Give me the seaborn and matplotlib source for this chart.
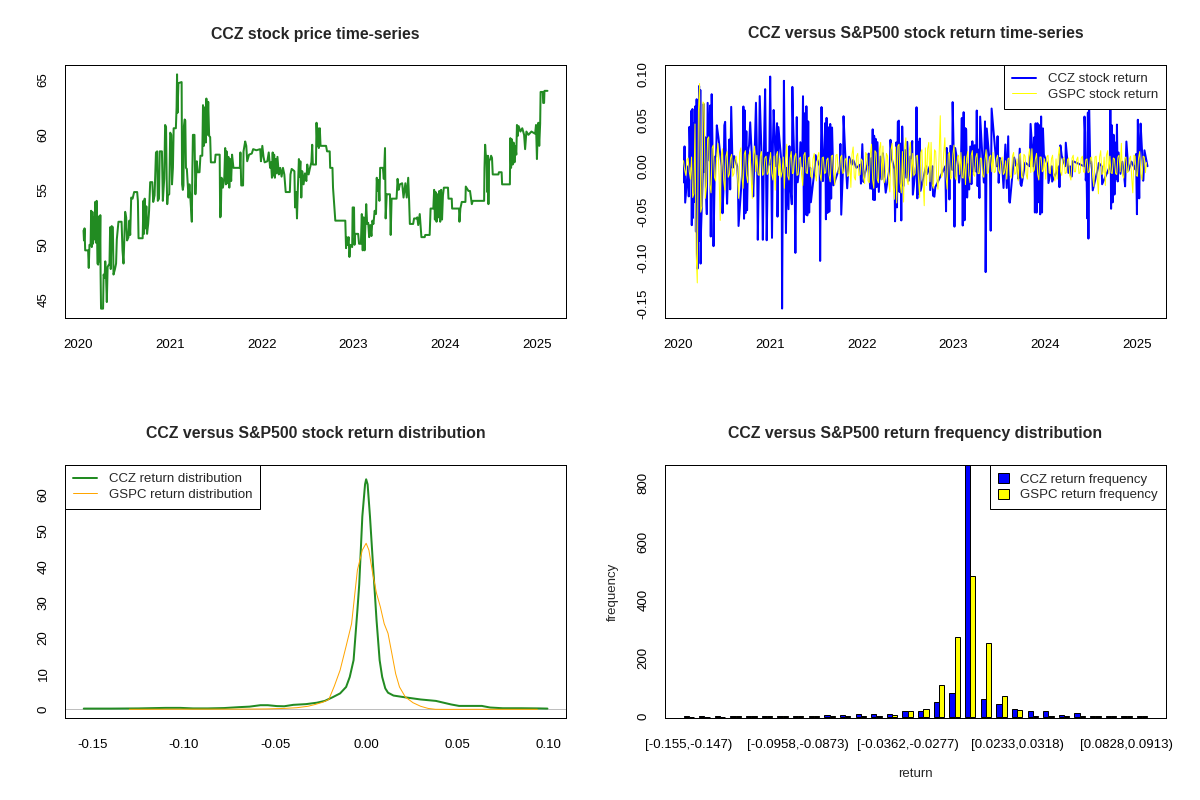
import numpy as np
import pandas as pd
import seaborn as sns
import matplotlib
matplotlib.use('Agg')
import matplotlib.pyplot as plt
from matplotlib.lines import Line2D
from matplotlib.patches import Patch

# ---------------- data ----------------
# CCZ closing price, (decimal year, price) pairs
price_2020 = [
    (2020.055, 51.3), (2020.060, 50.4), (2020.066, 51.5), (2020.073, 49.5), (2020.105, 49.5),
    (2020.112, 47.9), (2020.120, 50.0), (2020.132, 50.0), (2020.138, 53.1), (2020.145, 49.8),
    (2020.152, 53.0), (2020.158, 50.1), (2020.164, 52.5), (2020.175, 50.5), (2020.182, 53.9),
    (2020.190, 50.2), (2020.198, 54.0), (2020.207, 48.3), (2020.215, 48.2), (2020.225, 52.6),
    (2020.232, 48.5), (2020.238, 52.7), (2020.241, 47.4), (2020.246, 44.2), (2020.268, 44.2),
    (2020.274, 47.3), (2020.285, 47.0), (2020.292, 48.5), (2020.300, 47.2), (2020.309, 44.8),
    (2020.318, 48.0), (2020.338, 48.3), (2020.345, 51.6), (2020.352, 47.8), (2020.362, 51.7),
    (2020.375, 51.6), (2020.382, 47.3), (2020.398, 47.8), (2020.410, 48.3), (2020.418, 50.5),
    (2020.436, 52.1), (2020.470, 52.1), (2020.480, 49.5), (2020.491, 48.3), (2020.500, 50.5),
    (2020.509, 53.0), (2020.520, 52.5), (2020.530, 50.4), (2020.545, 50.7), (2020.555, 52.2),
    (2020.564, 50.9), (2020.575, 54.3), (2020.590, 54.2), (2020.607, 54.8), (2020.640, 54.8),
    (2020.648, 54.0), (2020.655, 50.6), (2020.700, 50.6), (2020.708, 54.0), (2020.715, 51.0),
    (2020.722, 54.2), (2020.730, 51.5), (2020.740, 53.5), (2020.748, 51.0), (2020.760, 51.9),
    (2020.770, 53.1), (2020.782, 55.7), (2020.805, 55.7), (2020.815, 53.9), (2020.830, 54.5),
    (2020.845, 58.4), (2020.858, 58.5), (2020.865, 54.0), (2020.878, 54.2), (2020.886, 58.5),
    (2020.910, 58.5), (2020.920, 54.0), (2020.935, 56.0), (2020.945, 60.9), (2020.955, 60.7),
    (2020.962, 56.0), (2020.968, 53.7), (2020.975, 54.5), (2020.990, 54.6),
]
price_2021 = [
    (2021.000, 60.2), (2021.012, 60.0), (2021.020, 55.5), (2021.030, 57.0), (2021.038, 60.6),
    (2021.062, 60.6), (2021.070, 62.5), (2021.075, 65.5), (2021.080, 62.0), (2021.090, 64.7),
    (2021.125, 64.8), (2021.130, 55.5), (2021.138, 55.0), (2021.145, 55.4), (2021.150, 60.8),
    (2021.158, 61.4), (2021.165, 61.3), (2021.172, 57.0), (2021.182, 56.9), (2021.200, 54.3),
    (2021.210, 55.5), (2021.220, 54.3), (2021.236, 52.1), (2021.242, 56.8), (2021.248, 60.0),
    (2021.265, 60.0), (2021.275, 54.6), (2021.290, 57.6), (2021.300, 56.6), (2021.320, 56.6),
    (2021.330, 58.1), (2021.350, 58.1), (2021.358, 62.7), (2021.368, 59.0), (2021.378, 62.5),
    (2021.388, 59.3), (2021.395, 63.3), (2021.405, 60.0), (2021.415, 63.0), (2021.425, 59.9),
    (2021.436, 59.8), (2021.444, 57.5), (2021.488, 57.5), (2021.495, 58.2), (2021.540, 58.2),
    (2021.545, 52.5), (2021.552, 52.6), (2021.560, 56.1), (2021.575, 55.2), (2021.590, 56.1),
    (2021.600, 58.8), (2021.608, 55.5), (2021.615, 58.5), (2021.625, 55.6), (2021.635, 58.0),
    (2021.645, 55.2), (2021.655, 57.8), (2021.665, 55.8), (2021.675, 58.2), (2021.690, 57.0),
    (2021.760, 57.0), (2021.766, 58.4), (2021.775, 55.4), (2021.795, 55.4), (2021.800, 58.5),
    (2021.818, 59.4), (2021.830, 59.0), (2021.840, 57.6), (2021.860, 58.2), (2021.890, 58.3),
    (2021.905, 58.7), (2021.940, 58.6), (2021.982, 58.7), (2021.990, 57.6),
]
price_2022 = [
    (2022.005, 59.0), (2022.018, 58.0), (2022.030, 57.5), (2022.060, 57.6), (2022.075, 58.4),
    (2022.090, 57.0), (2022.100, 57.5), (2022.110, 56.1), (2022.118, 58.4), (2022.126, 56.3),
    (2022.134, 58.2), (2022.142, 56.1), (2022.150, 57.8), (2022.160, 56.5), (2022.170, 58.0),
    (2022.185, 56.4), (2022.200, 57.0), (2022.215, 56.2), (2022.230, 57.0), (2022.245, 56.4),
    (2022.260, 54.8), (2022.305, 54.8), (2022.312, 56.4), (2022.325, 56.9), (2022.355, 56.7),
    (2022.362, 53.4), (2022.375, 54.8), (2022.383, 52.4), (2022.392, 55.0), (2022.404, 57.8),
    (2022.410, 56.2), (2022.420, 57.6), (2022.430, 54.3), (2022.440, 56.7), (2022.455, 55.5),
    (2022.470, 56.5), (2022.485, 55.8), (2022.495, 57.3), (2022.510, 56.4), (2022.525, 57.0),
    (2022.540, 57.5), (2022.549, 59.1), (2022.556, 57.3), (2022.590, 57.3), (2022.596, 61.1),
    (2022.605, 59.0), (2022.612, 60.6), (2022.621, 58.8), (2022.632, 60.6), (2022.640, 59.0),
    (2022.700, 59.0), (2022.711, 58.5), (2022.740, 58.5), (2022.745, 57.0), (2022.770, 57.0),
    (2022.776, 55.2), (2022.791, 53.4), (2022.801, 52.2), (2022.910, 52.2), (2022.918, 49.7),
    (2022.925, 50.7), (2022.935, 50.0), (2022.946, 50.7), (2022.955, 48.9), (2022.965, 50.0),
    (2022.985, 49.8), (2022.990, 53.4),
]
price_2023 = [
    (2023.005, 53.4), (2023.010, 50.0), (2023.018, 51.0), (2023.050, 51.0), (2023.060, 50.1),
    (2023.080, 50.1), (2023.090, 52.8), (2023.100, 49.5), (2023.110, 52.5), (2023.120, 49.5),
    (2023.128, 51.6), (2023.138, 53.7), (2023.148, 51.9), (2023.160, 52.0), (2023.170, 50.7),
    (2023.182, 51.8), (2023.195, 50.8), (2023.205, 52.2), (2023.217, 51.9), (2023.230, 53.1),
    (2023.245, 52.8), (2023.253, 56.1), (2023.262, 54.9), (2023.272, 55.9), (2023.282, 54.0),
    (2023.290, 57.0), (2023.320, 57.0), (2023.330, 56.0), (2023.343, 58.8), (2023.350, 52.4),
    (2023.362, 54.6), (2023.397, 54.6), (2023.405, 50.9), (2023.415, 54.2), (2023.469, 54.2),
    (2023.480, 56.0), (2023.492, 55.0), (2023.505, 55.5), (2023.530, 55.6), (2023.545, 54.3),
    (2023.565, 55.6), (2023.580, 54.3), (2023.596, 56.1), (2023.606, 54.0), (2023.614, 51.9),
    (2023.650, 51.9), (2023.660, 52.4), (2023.686, 52.4), (2023.695, 52.5), (2023.705, 51.8),
    (2023.722, 52.8), (2023.730, 51.8), (2023.740, 50.7), (2023.776, 50.7), (2023.782, 50.9),
    (2023.830, 50.9), (2023.840, 53.3), (2023.870, 53.3), (2023.879, 55.0), (2023.887, 52.3),
    (2023.895, 54.8), (2023.905, 52.1), (2023.915, 54.6), (2023.925, 52.5), (2023.935, 54.9),
    (2023.945, 52.1), (2023.955, 55.0), (2023.965, 52.3), (2023.975, 54.5), (2023.985, 55.2),
]
price_2024 = [
    (2024.030, 55.2), (2024.035, 54.2), (2024.071, 54.2), (2024.075, 53.3), (2024.150, 53.3),
    (2024.155, 52.1), (2024.165, 53.3), (2024.180, 53.9), (2024.220, 53.9), (2024.224, 55.3),
    (2024.253, 54.9), (2024.270, 54.9), (2024.280, 54.3), (2024.290, 53.7), (2024.300, 54.0),
    (2024.424, 54.0), (2024.428, 57.0), (2024.435, 59.1), (2024.442, 58.2), (2024.450, 58.0),
    (2024.458, 54.8), (2024.465, 58.1), (2024.471, 53.7), (2024.478, 57.6), (2024.490, 57.8),
    (2024.500, 58.1), (2024.510, 57.9), (2024.518, 56.4), (2024.580, 56.4), (2024.585, 56.6),
    (2024.615, 56.6), (2024.620, 55.5), (2024.705, 55.5), (2024.710, 59.7), (2024.718, 57.0),
    (2024.726, 59.6), (2024.735, 57.3), (2024.745, 59.3), (2024.755, 57.5), (2024.765, 59.0),
    (2024.775, 58.2), (2024.782, 60.9), (2024.790, 59.9), (2024.800, 60.8), (2024.820, 60.3),
    (2024.840, 60.6), (2024.860, 60.0), (2024.871, 58.7), (2024.885, 60.3), (2024.907, 60.0),
    (2024.940, 60.3), (2024.980, 60.1), (2024.990, 60.9),
]
price_2025 = [
    (2025.000, 57.8), (2025.010, 60.8), (2025.016, 61.1), (2025.025, 59.0), (2025.035, 61.0),
    (2025.040, 63.9), (2025.064, 63.9), (2025.068, 62.9), (2025.078, 62.9), (2025.082, 64.0),
    (2025.115, 64.0),
]

# S&P500 (GSPC) daily return, sampled along the time axis
gspc_start, gspc_step = 2020.055, 0.0125
gspc_2020 = [0.006, -0.004, -0.010, 0.007, 0.009, -0.006, -0.014, 0.010, -0.034, -0.030,
             0.046, -0.095, -0.127, 0.060, 0.090, -0.050, -0.044, 0.070, 0.068, -0.035,
             -0.022, 0.030, 0.032, -0.020, -0.029, 0.020, 0.023, -0.012, -0.016, 0.012,
             0.025, -0.010, -0.059, 0.011, 0.019, -0.015, -0.026, 0.011, 0.016, -0.012,
             -0.009, 0.009, 0.013, -0.011, -0.008, 0.007, 0.011, -0.008, -0.035, 0.015,
             0.020, -0.012, -0.024, 0.013, 0.017, -0.010, -0.018, 0.012, 0.016, -0.012,
             -0.035, 0.012, 0.022, -0.006, 0.012, -0.009, -0.010, 0.011, 0.016, -0.010,
             -0.008, 0.009, 0.011, -0.009, -0.007, 0.006]
gspc_2021 = [0.015, -0.008, -0.015, 0.011, -0.026, 0.012, 0.016, -0.010, 0.009, -0.012,
             -0.006, 0.010, -0.024, 0.008, 0.024, -0.011, -0.015, 0.009, 0.016, -0.008,
             -0.007, 0.011, 0.014, -0.010, -0.009, 0.008, 0.010, -0.009, -0.021, 0.012,
             0.015, -0.007, -0.008, 0.009, 0.010, -0.011, -0.013, 0.008, 0.014, -0.009,
             -0.016, 0.010, 0.015, -0.008, -0.016, 0.009, 0.010, -0.008, -0.007, 0.007,
             0.009, -0.010, -0.017, 0.011, 0.012, -0.009, -0.020, 0.012, 0.013, -0.007,
             -0.008, 0.010, 0.012, -0.008, -0.006, 0.007, 0.009, -0.011, -0.010, 0.008,
             -0.023, 0.013, 0.021, -0.012, -0.015, 0.011, 0.014, -0.010, -0.009, 0.008]
gspc_2022 = [0.006, -0.012, -0.019, 0.015, 0.012, -0.016, -0.018, 0.014, 0.024, -0.015,
             -0.024, 0.017, 0.015, -0.014, -0.018, 0.019, 0.026, -0.015, 0.022, -0.018,
             -0.012, 0.014, 0.011, -0.016, -0.028, 0.018, 0.025, -0.020, -0.036, 0.021,
             -0.040, 0.022, 0.024, -0.018, -0.029, 0.016, -0.039, 0.020, 0.031, -0.015,
             -0.020, 0.017, 0.026, -0.012, 0.014, -0.010, -0.008, 0.011, 0.012, -0.013,
             -0.034, 0.015, 0.018, -0.016, -0.043, 0.020, -0.021, 0.019, 0.026, -0.017,
             0.026, -0.020, -0.024, 0.018, 0.016, -0.014, -0.025, 0.012, 0.055, -0.012,
             -0.009, 0.014, 0.031, -0.011, -0.025, 0.013, 0.015, -0.014, -0.012, 0.013]
gspc_2023 = [0.023, -0.012, -0.015, 0.010, 0.012, -0.009, 0.015, -0.012, -0.013, 0.011,
             -0.020, 0.009, 0.016, -0.010, -0.018, 0.012, 0.017, -0.009, -0.011, 0.010,
             0.014, -0.008, -0.008, 0.009, 0.008, -0.010, -0.012, 0.007, 0.018, -0.008,
             -0.007, 0.010, 0.012, -0.006, 0.015, -0.007, -0.006, 0.008, 0.012, -0.005,
             -0.008, 0.007, 0.010, -0.009, -0.007, 0.006, -0.014, 0.008, 0.009, -0.010,
             -0.013, 0.011, 0.015, -0.009, -0.007, 0.008, -0.016, 0.012, 0.014, -0.011,
             -0.013, 0.013, 0.011, -0.009, -0.014, 0.010, 0.019, -0.007, 0.019, -0.006,
             -0.004, 0.008, 0.014, -0.009, -0.015, 0.010, 0.010, -0.006, -0.004, 0.008]
gspc_2024 = [-0.014, 0.010, 0.012, -0.007, -0.008, 0.008, 0.012, -0.009, -0.016, 0.008,
             -0.014, 0.011, 0.021, -0.006, -0.010, 0.008, 0.009, -0.008, -0.007, 0.007,
             0.009, -0.010, -0.015, 0.009, 0.012, -0.006, -0.006, 0.007, 0.010, -0.008,
             -0.007, 0.009, 0.011, -0.006, -0.007, 0.007, 0.008, -0.007, -0.006, 0.009,
             0.010, -0.012, -0.022, 0.010, 0.011, -0.013, -0.030, 0.010, 0.017, -0.009,
             -0.007, 0.010, -0.021, 0.012, 0.017, -0.008, 0.011, -0.007, -0.008, 0.009,
             0.008, -0.008, -0.009, 0.010, 0.012, -0.006, 0.025, -0.010, -0.013, 0.009,
             0.010, -0.007, -0.006, 0.008, 0.011, -0.012, -0.029, 0.012, 0.011, -0.010]
gspc_2025 = [-0.011, 0.009, 0.016, -0.008, -0.015, 0.011, 0.010, -0.007, 0.004]

# kernel density curves
dens_ccz_x = [-0.155, -0.140, -0.125, -0.110, -0.102, -0.095, -0.087, -0.078, -0.070, -0.064,
              -0.058, -0.054, -0.049, -0.045, -0.040, -0.033, -0.027, -0.0227, -0.0185, -0.0143,
              -0.011, -0.009, -0.0069, -0.0048, -0.0038, -0.0021, -0.0006, 0.0, 0.0008, 0.0021,
              0.0036, 0.0057, 0.0074, 0.0088, 0.0105, 0.012, 0.015, 0.0214, 0.0299, 0.0383,
              0.0467, 0.051, 0.058, 0.0635, 0.068, 0.075, 0.085, 0.095, 0.0995]
dens_ccz_y = [0.25, 0.25, 0.3, 0.45, 0.45, 0.3, 0.3, 0.4, 0.65, 0.8,
              1.2, 1.2, 0.95, 0.9, 1.3, 1.5, 1.9, 2.4, 3.4, 4.5,
              6.3, 9.1, 13.8, 27.8, 35.0, 54.0, 63.0, 64.4, 63.0, 54.0,
              41.8, 25.0, 13.8, 9.1, 5.9, 4.7, 3.9, 3.4, 2.8, 2.4,
              1.4, 1.0, 1.0, 1.0, 0.55, 0.35, 0.35, 0.3, 0.25]
dens_gspc_x = [-0.13, -0.11, -0.09, -0.07, -0.055, -0.045, -0.038, -0.032, -0.028, -0.024,
               -0.0205, -0.0175, -0.0143, -0.0111, -0.0080, -0.0048, -0.0021, 0.0, 0.0015, 0.0036,
               0.0057, 0.0078, 0.0099, 0.012, 0.0141, 0.0162, 0.0183, 0.0215, 0.0257, 0.0299,
               0.034, 0.038, 0.045, 0.06, 0.075, 0.094]
dens_gspc_y = [0.05, 0.08, 0.1, 0.1, 0.15, 0.3, 0.5, 0.9, 1.4, 2.0,
               2.8, 6.5, 11.0, 17.5, 24.0, 39.0, 44.6, 46.5, 44.6, 38.0,
               32.5, 28.7, 24.0, 21.3, 15.7, 10.0, 6.3, 3.5, 1.9, 0.9,
               0.3, 0.05, 0.03, 0.05, 0.05, 0.05]

# return frequency table
bin_labels = ['[-0.155,-0.147)', '[-0.147,-0.138)', '[-0.138,-0.13)', '[-0.13,-0.121)',
              '[-0.121,-0.113)', '[-0.113,-0.104)', '[-0.104,-0.0958)', '[-0.0958,-0.0873)',
              '[-0.0873,-0.0788)', '[-0.0788,-0.0702)', '[-0.0702,-0.0618)', '[-0.0618,-0.0533)',
              '[-0.0533,-0.0448)', '[-0.0448,-0.0362)', '[-0.0362,-0.0277)', '[-0.0277,-0.0192)',
              '[-0.0192,-0.0107)', '[-0.0107,-0.00225)', '[-0.00225,0.00625)', '[0.00625,0.0147)',
              '[0.0147,0.0233)', '[0.0233,0.0318)', '[0.0318,0.0403)', '[0.0403,0.0488)',
              '[0.0488,0.0573)', '[0.0573,0.0658)', '[0.0658,0.0743)', '[0.0743,0.0828)',
              '[0.0828,0.0913)', '[0.0913,0.0998]']
ccz_freq = [4, 1, 1, 2, 3, 2, 3, 3, 3, 7, 7, 10, 10, 10, 21,
            21, 52, 80, 862, 60, 42, 28, 21, 21, 7, 14, 3, 2, 3, 3]
gspc_freq = [0, 0, 0, 1, 1, 1, 2, 1, 2, 2, 2, 4, 4, 6, 21,
             28, 108, 272, 481, 252, 70, 24, 4, 4, 4, 4, 3, 2, 3, 1]

# ---------------- build series ----------------
price = pd.DataFrame(price_2020 + price_2021 + price_2022 + price_2023 + price_2024 + price_2025,
                     columns=['t', 'price'])
ccz_ret = pd.DataFrame({'t': price['t'].values[1:],
                        'ret': np.diff(np.log(price['price'].values))})
gspc_vals = gspc_2020 + gspc_2021 + gspc_2022 + gspc_2023 + gspc_2024 + gspc_2025
gspc_ret = pd.DataFrame({'t': gspc_start + gspc_step * np.arange(len(gspc_vals)),
                         'ret': gspc_vals})

freq = pd.DataFrame({
    'bin': bin_labels * 2,
    'series': ['CCZ return frequency'] * 30 + ['GSPC return frequency'] * 30,
    'count': ccz_freq + gspc_freq,
})

# ---------------- style ----------------
sns.set_theme(style='white')
plt.rcParams['font.family'] = ['Liberation Sans', 'DejaVu Sans']
plt.rcParams['axes.unicode_minus'] = False
plt.rcParams['axes.edgecolor'] = 'black'
plt.rcParams['axes.linewidth'] = 0.72

TICK = 9.5
TITLE = 11.4
LW_THICK = 1.44
LW_THIN = 0.72
TLEN = 5.8

fig = plt.figure(figsize=(12, 8), dpi=100)
ax_price = fig.add_axes([0.05417, 0.6025, 0.4175, 0.31625])
ax_ret = fig.add_axes([0.55417, 0.6025, 0.4175, 0.31625])
ax_dens = fig.add_axes([0.05417, 0.10188, 0.4175, 0.31688])
ax_hist = fig.add_axes([0.55417, 0.10188, 0.4175, 0.31688])


def style_axis(ax, title, xticks, xlabels, yticks, ylabels, bar_names=False):
    ax.set_xticks(xticks)
    ax.set_xticklabels(xlabels)
    ax.set_yticks(yticks)
    ax.set_yticklabels(ylabels, rotation=90, va='center')
    ax.tick_params(axis='both', direction='out', width=0.72, labelsize=TICK,
                   colors='black', length=TLEN)
    ax.tick_params(axis='y', pad=5.2)
    if bar_names:
        ax.tick_params(axis='x', length=0, pad=15.0)
    else:
        ax.tick_params(axis='x', pad=9.1)
    ax.set_xlabel('')
    ax.set_ylabel('')
    for s in ax.spines.values():
        s.set_color('black')
        s.set_linewidth(0.72)
    ax.text(0.5, 1 + 31 / 253, title, transform=ax.transAxes, ha='center', va='center',
            fontsize=TITLE, fontweight='bold')


years = [2020, 2021, 2022, 2023, 2024, 2025]

# 1. price time-series
sns.lineplot(data=price, x='t', y='price', ax=ax_price, color='forestgreen',
             linewidth=LW_THICK, estimator=None, sort=False)
ax_price.set_xlim(2019.853, 2025.317)
ax_price.set_ylim(43.35, 66.35)
style_axis(ax_price, 'CCZ stock price time-series', years, [str(y) for y in years],
           [45, 50, 55, 60, 65], ['45', '50', '55', '60', '65'])

# 2. return time-series
sns.lineplot(data=ccz_ret, x='t', y='ret', ax=ax_ret, color='blue',
             linewidth=LW_THICK, estimator=None, sort=False)
sns.lineplot(data=gspc_ret, x='t', y='ret', ax=ax_ret, color='yellow',
             linewidth=LW_THIN, estimator=None, sort=False)
ax_ret.set_xlim(2019.853, 2025.317)
ax_ret.set_ylim(-0.1652, 0.1102)
ret_ticks = [-0.15, -0.10, -0.05, 0.0, 0.05, 0.10]
style_axis(ax_ret, 'CCZ versus S&P500 stock return time-series', years, [str(y) for y in years],
           ret_ticks, ['-0.15', '-0.10', '-0.05', '0.00', '0.05', '0.10'])
leg = ax_ret.legend(handles=[Line2D([], [], color='blue', lw=LW_THICK),
                             Line2D([], [], color='yellow', lw=LW_THIN)],
                    labels=['CCZ stock return', 'GSPC stock return'],
                    loc='upper right', borderaxespad=0, fancybox=False, framealpha=1,
                    edgecolor='black', fontsize=TICK, handlelength=1.8, handletextpad=0.9,
                    borderpad=0.6, labelspacing=0.25)
leg.get_frame().set_linewidth(0.72)

# 3. density
ax_dens.axhline(0, color='#BEBEBE', lw=LW_THIN, zorder=1)
sns.lineplot(x=dens_ccz_x, y=dens_ccz_y, ax=ax_dens, color='forestgreen',
             linewidth=LW_THICK, estimator=None, sort=False)
sns.lineplot(x=dens_gspc_x, y=dens_gspc_y, ax=ax_dens, color='orange',
             linewidth=LW_THIN, estimator=None, sort=False)
ax_dens.set_xlim(-0.1653, 0.1097)
ax_dens.set_ylim(-2.52, 68.4)
style_axis(ax_dens, 'CCZ versus S&P500 stock return distribution',
           [-0.15, -0.10, -0.05, 0.0, 0.05, 0.10],
           ['-0.15', '-0.10', '-0.05', '0.00', '0.05', '0.10'],
           [0, 10, 20, 30, 40, 50, 60], ['0', '10', '20', '30', '40', '50', '60'])
leg = ax_dens.legend(handles=[Line2D([], [], color='forestgreen', lw=LW_THICK),
                              Line2D([], [], color='orange', lw=LW_THIN)],
                     labels=['CCZ return distribution', 'GSPC return distribution'],
                     loc='upper left', borderaxespad=0, fancybox=False, framealpha=1,
                     edgecolor='black', fontsize=TICK, handlelength=1.8, handletextpad=0.9,
                     borderpad=0.6, labelspacing=0.25)
leg.get_frame().set_linewidth(0.72)

# 4. frequency bars
sns.barplot(data=freq, x='bin', y='count', hue='series', order=bin_labels,
            hue_order=['CCZ return frequency', 'GSPC return frequency'],
            palette=['blue', 'yellow'], saturation=1, width=2 / 3, gap=0,
            edgecolor='black', linewidth=LW_THIN, errorbar=None, legend=False, ax=ax_hist)
ax_hist.set_xlim(-1.52, 30.52)
ax_hist.set_ylim(-6, 862)
shown = [0, 7, 14, 21, 28]
style_axis(ax_hist, 'CCZ versus S&P500 return frequency distribution',
           shown, [bin_labels[i] for i in shown],
           [0, 200, 400, 600, 800], ['0', '200', '400', '600', '800'], bar_names=True)
ax_hist.set_xlabel('return', fontsize=TICK)
ax_hist.xaxis.set_label_coords(0.5, -50 / 254)
ax_hist.set_ylabel('frequency', fontsize=TICK)
ax_hist.yaxis.set_label_coords(-46 / 501, 0.5)
leg = ax_hist.legend(handles=[Patch(facecolor='blue', edgecolor='black', lw=LW_THIN),
                              Patch(facecolor='yellow', edgecolor='black', lw=LW_THIN)],
                     labels=['CCZ return frequency', 'GSPC return frequency'],
                     loc='upper right', borderaxespad=0, fancybox=False, framealpha=1,
                     edgecolor='black', fontsize=TICK, handlelength=0.8, handleheight=0.8,
                     handletextpad=0.9, borderpad=0.6, labelspacing=0.25)
leg.get_frame().set_linewidth(0.72)

fig.savefig('out.png', dpi=100, facecolor='white')
